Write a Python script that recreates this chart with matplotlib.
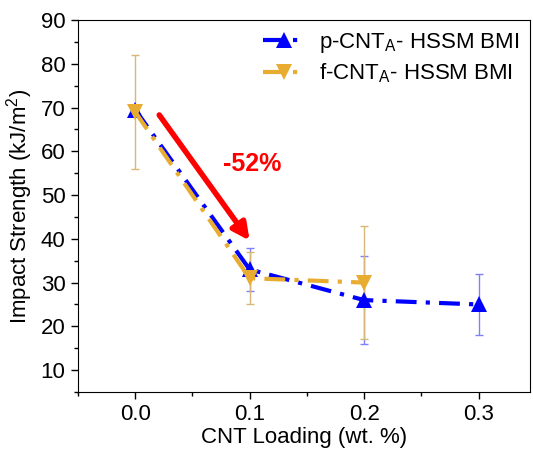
import matplotlib

matplotlib.use("Agg")

import matplotlib.pyplot as plt  # noqa: E402
from matplotlib.ticker import MultipleLocator  # noqa: E402

plt.rcParams["font.family"] = ["Liberation Sans", "DejaVu Sans"]
plt.rcParams["mathtext.fontset"] = "custom"
plt.rcParams["mathtext.rm"] = "Liberation Sans"

# data
p_x = [0.0, 0.1, 0.2, 0.3]
p_y = [69.5, 33, 26, 25]
p_err = [1, 5, 10, 7]

f_x = [0.0, 0.1, 0.2]
f_y = [69, 31, 30]
f_err = [13, 6, 13]

BLUE = "#0000FF"
GOLD = "#E8AD30"

fig = plt.figure(figsize=(5.33, 4.53), dpi=100)
ax = fig.add_axes([0.1463, 0.1347, 0.8481, 0.8211])

dashdot = (0, (5, 2.2, 1, 2.2))

ax.errorbar(p_x, p_y, yerr=p_err, fmt="none", ecolor="#8080FF", elinewidth=1,
            capsize=3, capthick=1, zorder=2)
ax.errorbar(f_x, f_y, yerr=f_err, fmt="none", ecolor="#D8B878", elinewidth=1,
            capsize=3, capthick=1, zorder=2)

ax.plot(p_x, p_y, color=BLUE, linestyle=dashdot, linewidth=3, marker="^",
        markersize=12, markeredgewidth=0, label=r"p-CNT$_\mathrm{A}$- HSSM BMI",
        zorder=3)
ax.plot(f_x, f_y, color=GOLD, linestyle=dashdot, linewidth=3, marker="v",
        markersize=12, markeredgewidth=0, label=r"f-CNT$_\mathrm{A}$- HSSM BMI",
        zorder=4)

ax.annotate("", xy=(0.1, 39.6), xytext=(0.021, 68.3),
            arrowprops=dict(arrowstyle="-|>,head_length=1.0,head_width=0.5",
                            color="red", linewidth=4, shrinkA=0, shrinkB=0))
ax.text(0.102, 57.2, "-52%", color="red", fontsize=18, fontweight="bold",
        ha="center", va="center")

ax.set_xlim(-0.05, 0.345)
ax.set_ylim(5, 90)
ax.set_xticks([0.0, 0.1, 0.2, 0.3])
ax.set_xticklabels(["0.0", "0.1", "0.2", "0.3"])
ax.set_yticks(range(10, 91, 10))
ax.xaxis.set_minor_locator(MultipleLocator(0.05))
ax.yaxis.set_minor_locator(MultipleLocator(5))
ax.tick_params(which="both", direction="out", labelsize=16, top=False, right=False)
ax.tick_params(which="major", length=5, width=1, pad=4)
ax.tick_params(which="minor", length=3, width=1)

ax.set_xlabel("CNT Loading (wt. %)", fontsize=16, labelpad=1)
ax.set_ylabel("Impact Strength (kJ/m$^\\mathrm{2}$)", fontsize=16, labelpad=4)

ax.legend(loc="upper right", frameon=False, fontsize=16, handlelength=1.9,
          borderaxespad=0.1, handletextpad=0.6, labelspacing=0.3)

fig.savefig("out.png", dpi=100)
